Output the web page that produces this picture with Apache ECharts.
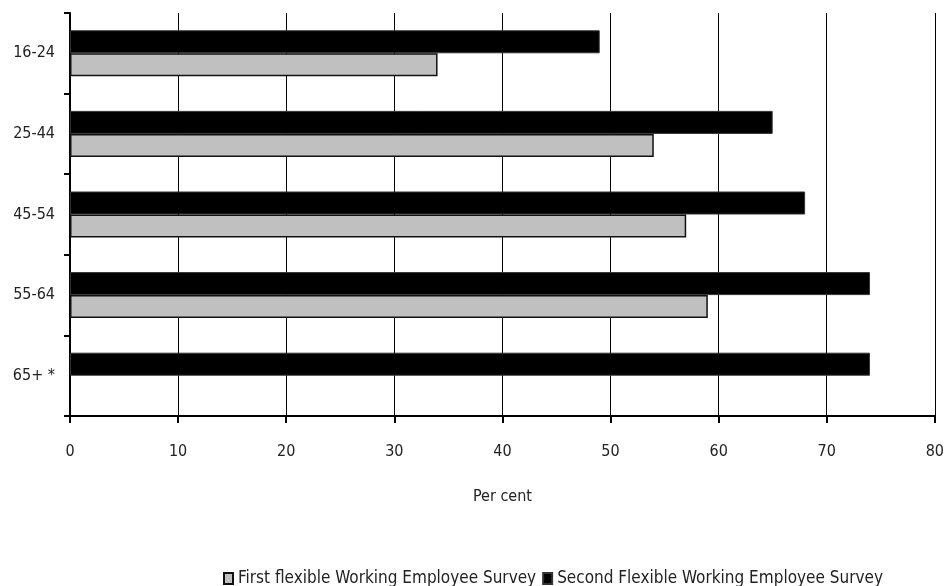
<!DOCTYPE html>
<html>
<head>
<meta charset="utf-8">
<script src="https://cdn.jsdelivr.net/npm/echarts@6/dist/echarts.min.js"></script>
<style>html,body{margin:0;padding:0;background:#fff}#c{width:947px;height:586px}</style>
</head>
<body>
<div id="c"></div>
<script>
var categories = ['16-24', '25-44', '45-54', '55-64', '65+ *'];
var firstSurvey = [34, 54, 57, 59, null];
var secondSurvey = [49, 65, 68, 74, 74];
var xTicks = [0, 10, 20, 30, 40, 50, 60, 70, 80];
var seriesNames = ['First flexible Working Employee Survey', 'Second Flexible Working Employee Survey'];

var FONT = "'Liberation Sans Narrow', 'Arial Narrow', 'DejaVu Sans Condensed', sans-serif";
var chart = echarts.init(document.getElementById('c'), null, {renderer: 'canvas'});
chart.setOption({
  animation: false,
  backgroundColor: '#fff',
  textStyle: {fontFamily: FONT, color: '#222'},
  grid: {left: 70, right: 11, top: 13, bottom: 170, containLabel: false},
  legend: {
    data: seriesNames,
    left: 218, top: 565,
    itemWidth: 9, itemHeight: 11, itemGap: 6,
    icon: 'rect',
    textStyle: {fontFamily: FONT, fontSize: 17, color: '#222'}
  },
  xAxis: {
    type: 'value', min: xTicks[0], max: xTicks[xTicks.length - 1], interval: 10,
    name: 'Per cent', nameLocation: 'middle', nameGap: 73,
    nameTextStyle: {fontFamily: FONT, fontSize: 16, color: '#222'},
    axisLine: {show: true, lineStyle: {color: '#000', width: 2}},
    axisTick: {show: true, length: 7, lineStyle: {color: '#000', width: 2}},
    splitLine: {show: true, lineStyle: {color: '#000', width: 1}},
    axisLabel: {fontFamily: FONT, fontSize: 16, color: '#222', margin: 28}
  },
  yAxis: {
    type: 'category', data: categories, inverse: true,
    axisLine: {show: true, lineStyle: {color: '#000', width: 2}},
    axisTick: {show: true, length: 6, lineStyle: {color: '#000', width: 2}},
    axisLabel: {fontFamily: FONT, fontSize: 16, color: '#222', margin: 15},
    splitLine: {show: false}
  },
  series: [
    {
      name: seriesNames[1], type: 'bar', data: secondSurvey,
      barWidth: 23, barGap: '0%',
      itemStyle: {color: '#000', borderColor: '#333', borderWidth: 1}
    },
    {
      name: seriesNames[0], type: 'bar', data: firstSurvey,
      barWidth: 23, barGap: '0%',
      itemStyle: {color: '#c0c0c0', borderColor: '#111', borderWidth: 1.5}
    }
  ]
});
</script>
</body>
</html>
